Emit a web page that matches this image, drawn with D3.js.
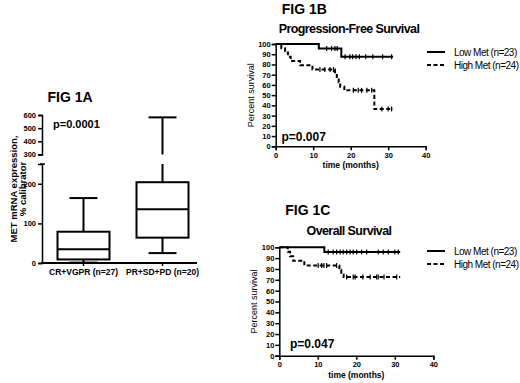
<!DOCTYPE html>
<html>
<head>
<meta charset="utf-8">
<script src="https://cdn.jsdelivr.net/npm/d3@7"></script>
<style>
body { margin: 0; background: #fff; }
text { font-family: "Liberation Sans", Arial, sans-serif; fill: #000; }
</style>
</head>
<body>
<svg id="chart" width="520" height="383"></svg>
<script>
// ---- Fig 1A: MET mRNA expression box plots ----
var groups = ["CR+VGPR (n=27)", "PR+SD+PD (n=20)"];
var whiskLo = [1, 25];
var q1 = [9, 64];
var medians = [35, 136];
var q3 = [79, 204];
var whiskHi = [164, 582];
var lowTicks = [0, 100, 200];
var highTicks = [300, 400, 500, 600];

// ---- Fig 1B: progression-free survival (Kaplan-Meier) ----
var pfsLowT = [0, 11.5, 17.5];
var pfsLowS = [100, 95.7, 87.5];
var pfsLowCens = [13.6, 14.9, 15.8, 16.4, 18.5, 19.8, 20.5, 21.4, 22.3, 24, 25.9, 28.5, 30.9];
var pfsHighT = [0, 1.5, 2.5, 3.3, 4, 6.5, 9.8, 15.8, 16.3, 16.8, 17.2, 18.3, 26.3];
var pfsHighS = [100, 95.8, 91.7, 87.5, 83.3, 79.2, 75, 70.8, 66.7, 62.5, 58.3, 54.7, 36.5];
var pfsHighCens = [11.8, 13.1, 14.5, 15.4, 20.7, 22, 22.9, 24.3, 25.6, 28.3, 30, 30.9];
var pfsEnd = 31.3;

// ---- Fig 1C: overall survival ----
var osLowT = [0, 11.7];
var osLowS = [100, 95.7];
var osLowCens = [12.7, 14, 14.9, 15.8, 16.6, 17.5, 18.4, 19.2, 20.1, 21.4, 22.7, 25.7, 27, 28.3, 30, 30.9];
var osHighT = [0, 2.2, 2.8, 3.6, 6.5, 15.6, 16.1, 16.7];
var osHighS = [100, 95.8, 91.7, 87.5, 83.3, 79.2, 75, 72.5];
var osHighCens = [10.1, 11, 11.6, 12.3, 14.9, 17.5, 19.2, 19.7, 21.7, 23.6, 25.3, 25.7, 27.2, 30.5];
var osEnd = 31.4;

var timeTicks = [0, 10, 20, 30, 40];
var pctTicks = d3.range(0, 101, 10);
var legendNames = ["Low Met (n=23)", "High Met (n=24)"];

var svg = d3.select("#chart");

function axisStyle(sel) {
  sel.select(".domain").attr("stroke-width", 1.5);
  sel.selectAll(".tick line").attr("stroke-width", 1.5);
  sel.selectAll(".tick text").style("font-size", "7.5px").style("font-weight", "bold")
    .style("font-family", "'Liberation Sans', Arial, sans-serif");
}

/* ===================== FIG 1A ===================== */
var yLo = d3.scaleLinear().domain([0, 250]).range([263, 164]);
var yHi = d3.scaleLinear().domain([300, 600]).range([154.5, 115]);
var xBox = d3.scaleBand().domain(groups).range([44, 202]).paddingInner(0.5).paddingOuter(0.25);
var boxW = 52, capW = 28;

var gA = svg.append("g");

gA.append("text").attr("x", 70).attr("y", 102).attr("text-anchor", "middle")
  .style("font-size", "14px").style("font-weight", "bold").text("FIG 1A");

gA.append("g").attr("transform", "translate(42,0)")
  .call(d3.axisLeft(yLo).tickValues(lowTicks).tickSize(4).tickPadding(2))
  .call(axisStyle);
gA.append("g").attr("transform", "translate(42,0)")
  .call(d3.axisLeft(yHi).tickValues(highTicks).tickSize(4).tickPadding(2))
  .call(axisStyle);
// small cap on top of the lower axis segment
gA.append("line").attr("x1", 40).attr("x2", 45)
  .attr("y1", yLo(250)).attr("y2", yLo(250))
  .attr("stroke", "#000").attr("stroke-width", 1.5);

// x axis
gA.append("line").attr("x1", 41).attr("x2", 197)
  .attr("y1", yLo(0)).attr("y2", yLo(0)).attr("stroke", "#000").attr("stroke-width", 2);
groups.forEach(function (g) {
  var cx = xBox(g) + xBox.bandwidth() / 2;
  gA.append("line").attr("x1", cx).attr("x2", cx)
    .attr("y1", yLo(0)).attr("y2", yLo(0) + 3).attr("stroke", "#000").attr("stroke-width", 1.5);
  gA.append("text").attr("x", cx).attr("y", 275).attr("text-anchor", "middle")
    .style("font-size", "8.5px").style("font-weight", "bold").text(g);
});

function segs(a, b) {
  // pixel segments between two values, split at the axis break
  var lo = Math.min(a, b), hi = Math.max(a, b), out = [];
  if (lo < 250) out.push([yLo(lo), yLo(Math.min(hi, 250))]);
  if (hi > 300) out.push([yHi(Math.max(lo, 300)), yHi(hi)]);
  return out;
}
function yv(v) { return v <= 250 ? yLo(v) : yHi(v); }

groups.forEach(function (g, i) {
  var cx = xBox(g) + xBox.bandwidth() / 2;
  var bg = gA.append("g").attr("stroke", "#000").attr("stroke-width", 2).attr("fill", "none");
  bg.append("rect").attr("x", cx - boxW / 2).attr("width", boxW)
    .attr("y", yv(q3[i])).attr("height", yv(q1[i]) - yv(q3[i]));
  bg.append("line").attr("x1", cx - boxW / 2).attr("x2", cx + boxW / 2)
    .attr("y1", yv(medians[i])).attr("y2", yv(medians[i]));
  segs(q3[i], whiskHi[i]).concat(segs(whiskLo[i], q1[i])).forEach(function (s) {
    bg.append("line").attr("x1", cx).attr("x2", cx).attr("y1", s[0]).attr("y2", s[1]);
  });
  [whiskLo[i], whiskHi[i]].forEach(function (v) {
    bg.append("line").attr("x1", cx - capW / 2).attr("x2", cx + capW / 2)
      .attr("y1", yv(v)).attr("y2", yv(v));
  });
});

gA.append("text").attr("x", 53).attr("y", 128)
  .style("font-size", "11px").style("font-weight", "bold").text("p=0.0001");

var yl = gA.append("text").attr("transform", "translate(16.5,189) rotate(-90)")
  .attr("text-anchor", "middle").style("font-size", "9.5px").style("font-weight", "bold");
yl.append("tspan").attr("x", 0).attr("dy", 0).text("MET mRNA expression,");
yl.append("tspan").attr("x", 0).attr("dy", 9.5).text("% calibrator");

/* ===================== KM panels ===================== */
function stepAt(T, S, t) {
  var s = S[0];
  for (var k = 0; k < T.length; k++) if (T[k] <= t) s = S[k];
  return s;
}

function drawKM(cfg) {
  var x = d3.scaleLinear().domain([0, 40]).range(cfg.xr);
  var y = d3.scaleLinear().domain([0, 100]).range(cfg.yr);
  var g = svg.append("g");

  g.append("text").attr("x", x(0) + 6).attr("y", cfg.figY).style("font-size", "14px")
    .style("font-weight", "bold").text(cfg.fig);
  g.append("text").attr("x", cfg.titleX).attr("y", cfg.titleY).attr("text-anchor", "middle")
    .style("font-size", "12.5px").style("font-weight", "bold").style("letter-spacing", "-0.6px")
    .text(cfg.title);

  g.append("g").attr("transform", "translate(0," + y(0) + ")")
    .call(d3.axisBottom(x).tickValues(timeTicks).tickSize(4).tickPadding(2))
    .call(axisStyle);
  g.append("g").attr("transform", "translate(" + x(0) + ",0)")
    .call(d3.axisLeft(y).tickValues(pctTicks).tickSize(4).tickPadding(1))
    .call(axisStyle);

  g.append("text").attr("transform", "translate(" + (x(0) - 22) + "," + ((y(0) + y(100)) / 2) + ") rotate(-90)")
    .attr("text-anchor", "middle").style("font-size", "9px").text("Percent survival");
  g.append("text").attr("x", (x(0) + x(40)) / 2).attr("y", y(0) + 22).attr("text-anchor", "middle")
    .style("font-size", "8.5px").style("font-weight", "bold").text("time (months)");

  var line = d3.line().x(function (d) { return x(d[0]); }).y(function (d) { return y(d[1]); })
    .curve(d3.curveStepAfter);

  cfg.series.forEach(function (s) {
    var pts = s.T.map(function (t, k) { return [t, s.S[k]]; });
    pts.push([cfg.end, s.S[s.S.length - 1]]);
    g.append("path").datum(pts).attr("d", line).attr("fill", "none").attr("stroke", "#000")
      .attr("stroke-width", 2).attr("stroke-dasharray", s.dash);
    g.selectAll(null).data(s.C).join("line")
      .attr("x1", function (t) { return x(t); }).attr("x2", function (t) { return x(t); })
      .attr("y1", function (t) { return y(stepAt(s.T, s.S, t)) - 2.5; })
      .attr("y2", function (t) { return y(stepAt(s.T, s.S, t)) + 2.5; })
      .attr("stroke", "#000").attr("stroke-width", 1.2);
  });

  // legend
  legendNames.forEach(function (n, k) {
    var ly = cfg.legY + k * 13;
    g.append("line").attr("x1", 427).attr("x2", 445).attr("y1", ly).attr("y2", ly)
      .attr("stroke", "#000").attr("stroke-width", 2).attr("stroke-dasharray", cfg.series[k].dash);
    g.append("text").attr("x", 454).attr("y", ly + 3.5).style("font-size", "10px")
      .style("letter-spacing", "-0.5px").text(n);
  });

  g.append("text").attr("x", cfg.pX).attr("y", cfg.pY).style("font-size", "12px")
    .style("font-weight", "bold").text(cfg.p);
}

drawKM({
  fig: "FIG 1B", figY: 14, title: "Progression-Free Survival", titleX: 349, titleY: 33,
  xr: [275.7, 425.7], yr: [146.3, 44], end: pfsEnd, legY: 52,
  p: "p=0.007", pX: 281.5, pY: 141,
  series: [
    { T: pfsLowT, S: pfsLowS, C: pfsLowCens, dash: null },
    { T: pfsHighT, S: pfsHighS, C: pfsHighCens, dash: "4,2.5" }
  ]
});

drawKM({
  fig: "FIG 1C", figY: 215, title: "Overall Survival", titleX: 349, titleY: 235,
  xr: [279.3, 433.3], yr: [355.7, 247.3], end: osEnd, legY: 251,
  p: "p=0.047", pX: 290, pY: 348,
  series: [
    { T: osLowT, S: osLowS, C: osLowCens, dash: null },
    { T: osHighT, S: osHighS, C: osHighCens, dash: "4,2.5" }
  ]
});
</script>
</body>
</html>
